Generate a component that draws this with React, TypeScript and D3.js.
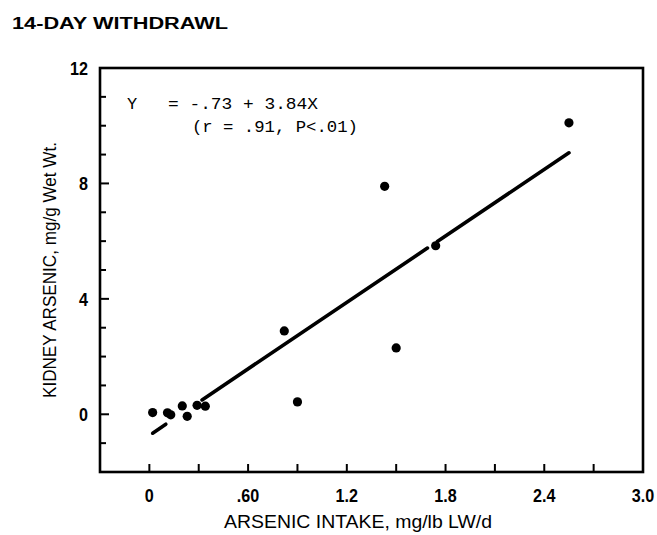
import React from 'react';
import * as d3 from 'd3';

// Arsenic intake (mg/lb LW/d) vs kidney arsenic (mg/g wet wt.)
const intake = [0.02, 0.11, 0.13, 0.20, 0.23, 0.29, 0.34, 0.82, 0.90, 1.43, 1.50, 1.74, 2.55];
const kidney = [0.06, 0.05, -0.02, 0.29, -0.07, 0.31, 0.28, 2.89, 0.43, 7.9, 2.30, 5.84, 10.1];

// regression line Y = -.73 + 3.84X, drawn in pieces (gaps where it crosses points)
const intercept = -0.73;
const slope = 3.84;
const lineSegments = [[0.02, 0.10], [0.32, 1.69], [1.75, 2.55]];

const xTickValues = [0, 0.6, 1.2, 1.8, 2.4, 3.0];
const xTickLabels = ['0', '.60', '1.2', '1.8', '2.4', '3.0'];
const xMinorTicks = [0, 0.3, 0.6, 0.9, 1.2, 1.5, 1.8, 2.1, 2.4, 2.7];
const yTickValues = [0, 4, 8, 12];
const yMinorTicks = [-1, 0, 1, 2, 3, 4, 5, 6, 7, 8, 9, 10, 11];

const App = () => {
  const width = 657;
  const height = 535;
  const left = 100;
  const right = 643;
  const top = 68;
  const bottom = 472;

  const x = d3.scaleLinear().domain([-0.3, 3.0]).range([left, right]);
  const y = d3.scaleLinear().domain([-2, 12]).range([bottom, top]);

  const line = d3.line<number>()
    .x(d => x(d))
    .y(d => y(intercept + slope * d));

  const sans = 'Liberation Sans, Arial, sans-serif';

  return (
    <svg width={width} height={height} style={{ position: 'absolute', left: 0, top: 0, background: '#fff' }}>
      <text x={12} y={29} fontFamily={sans} fontSize={16} fontWeight="bold"
        textLength={216} lengthAdjust="spacingAndGlyphs">14-DAY WITHDRAWL</text>

      {/* frame */}
      <rect x={left} y={top} width={right - left} height={bottom - top}
        fill="none" stroke="#000" strokeWidth={2.6} />

      {/* y ticks */}
      {yMinorTicks.map(v => (
        <line key={'ym' + v} x1={left} x2={left + (v % 4 === 0 ? 9 : 6)} y1={y(v)} y2={y(v)}
          stroke="#000" strokeWidth={2} />
      ))}
      {yTickValues.map(v => (
        <text key={'yl' + v} x={88} y={y(v)} dy="0.36em" textAnchor="end"
          fontFamily={sans} fontSize={19} fontWeight="bold"
          transform={`translate(88,0) scale(0.85,1) translate(-88,0)`}>{v}</text>
      ))}

      {/* x ticks */}
      {xMinorTicks.map(v => (
        <line key={'xm' + v} x1={x(v)} x2={x(v)} y1={bottom} y2={bottom - 8}
          stroke="#000" strokeWidth={2} />
      ))}
      {xTickValues.map((v, i) => (
        <text key={'xl' + v} x={x(v)} y={502} textAnchor="middle"
          fontFamily={sans} fontSize={19} fontWeight="bold"
          transform={`translate(${x(v)},0) scale(0.85,1) translate(${-x(v)},0)`}>{xTickLabels[i]}</text>
      ))}

      {/* axis titles */}
      <text x={358} y={528} textAnchor="middle" fontFamily={sans} fontSize={19}
        textLength={268} lengthAdjust="spacingAndGlyphs">ARSENIC INTAKE, mg/lb LW/d</text>
      <text transform={`translate(56,270) rotate(-90)`} textAnchor="middle" fontFamily={sans} fontSize={18}
        textLength={256} lengthAdjust="spacingAndGlyphs">KIDNEY ARSENIC, mg/g Wet Wt.</text>

      {/* equation */}
      <text x={127} y={109} fontFamily="Liberation Mono, monospace" fontSize={17}>Y</text>
      <text x={168} y={109} fontFamily="Liberation Mono, monospace" fontSize={17}
        textLength={150} lengthAdjust="spacingAndGlyphs">= -.73 + 3.84X</text>
      <text x={192} y={132} fontFamily="Liberation Mono, monospace" fontSize={17}
        textLength={166} lengthAdjust="spacingAndGlyphs">(r = .91, P&lt;.01)</text>

      {/* regression line */}
      {lineSegments.map((s, i) => (
        <path key={'seg' + i} d={line(s) ?? ''} fill="none" stroke="#000" strokeWidth={3.6} strokeLinecap="round" />
      ))}

      {/* points */}
      {intake.map((v, i) => (
        <circle key={'p' + i} cx={x(v)} cy={y(kidney[i])} r={4.6} fill="#000" />
      ))}
    </svg>
  );
};

export default App;
